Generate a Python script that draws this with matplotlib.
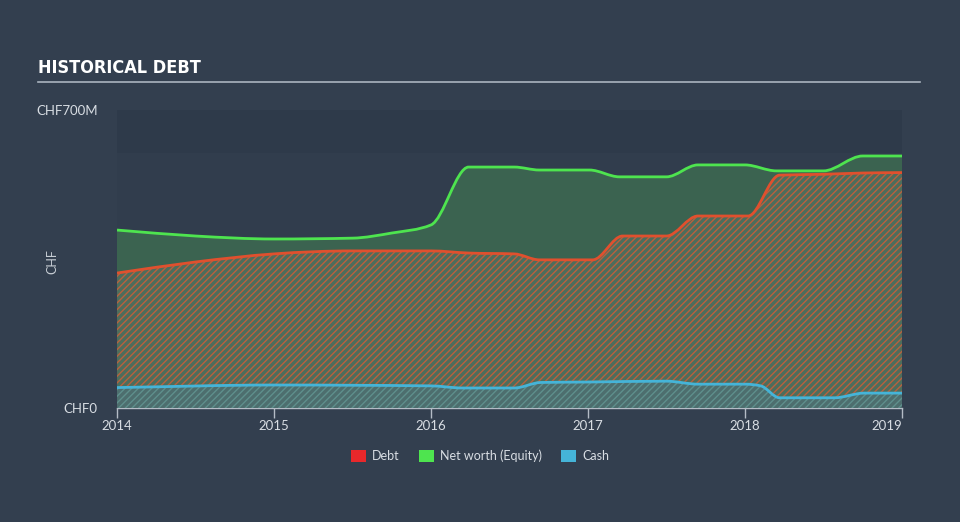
import numpy as np
import matplotlib.pyplot as plt
from matplotlib.path import Path
from matplotlib.patches import PathPatch, Patch

# values in CHF millions, dates as decimal years
equity_dates = [2014.0, 2014.5, 2015.0, 2015.5, 2015.75, 2016.0, 2016.24, 2016.53, 2016.69,
                2017.01, 2017.2, 2017.5, 2017.7, 2018.0, 2018.2, 2018.5, 2018.75, 2019.0]
equity = [418, 404, 397, 399, 411, 430, 566, 566, 559,
          559, 543, 543, 571, 571, 557, 557, 592, 592]

debt_dates = [2014.0, 2014.5, 2015.0, 2015.5, 2016.0, 2016.24, 2016.53, 2016.69, 2017.03,
              2017.22, 2017.5, 2017.7, 2018.02, 2018.22, 2018.5, 2018.75, 2019.0]
debt = [317, 343, 362, 369, 369, 364, 362, 348, 348,
        404, 404, 451, 451, 547, 549, 552, 553]

cash_dates = [2014.0, 2015.0, 2016.0, 2016.2, 2016.53, 2016.7, 2017.0, 2017.5, 2017.7,
              2018.0, 2018.1, 2018.22, 2018.57, 2018.76, 2019.0]
cash = [48, 54, 52, 47, 47, 60, 61, 63, 56,
        56, 52, 24, 24, 35, 35]

year_ticks = [2014, 2015, 2016, 2017, 2018, 2019]
y_max = 700

BG = '#333f4f'


def monotone_path(x, y):
    # smooth monotone-x curve (like d3 curveMonotoneX) as cubic bezier segments
    x = np.asarray(x, float)
    y = np.asarray(y, float)
    h = np.diff(x)
    s = np.diff(y) / h
    m = np.zeros(len(x))
    for i in range(1, len(x) - 1):
        if s[i - 1] * s[i] <= 0:
            m[i] = 0
        else:
            p = (s[i - 1] * h[i] + s[i] * h[i - 1]) / (h[i - 1] + h[i])
            m[i] = np.sign(s[i - 1]) * min(abs(s[i - 1]), abs(s[i]), 0.5 * abs(p)) * 2
    m[0] = s[0]
    m[-1] = s[-1]
    verts = [(x[0], y[0])]
    codes = [Path.MOVETO]
    for i in range(len(x) - 1):
        d = h[i] / 3
        verts += [(x[i] + d, y[i] + m[i] * d), (x[i + 1] - d, y[i + 1] - m[i + 1] * d), (x[i + 1], y[i + 1])]
        codes += [Path.CURVE4] * 3
    return verts, codes


def area_patch(x, y, **kw):
    verts, codes = monotone_path(x, y)
    verts = verts + [(x[-1], 0), (x[0], 0), (x[0], y[0])]
    codes = codes + [Path.LINETO, Path.LINETO, Path.CLOSEPOLY]
    return PathPatch(Path(verts, codes), **kw)


def line_patch(x, y, **kw):
    verts, codes = monotone_path(x, y)
    return PathPatch(Path(verts, codes), facecolor='none', **kw)


plt.rcParams['hatch.linewidth'] = 1.0
fig = plt.figure(figsize=(9.6, 5.22), dpi=100, facecolor=BG)
ax = fig.add_axes([117 / 960, 1 - 408 / 522, 785 / 960, 298 / 522])
ax.set_facecolor('#313d4d')
ax.axhspan(600, 700, color='#2e3a4a', zorder=0, lw=0)

ax.add_patch(area_patch(equity_dates, equity, facecolor='#3b6350', edgecolor='none', zorder=1))
ax.add_patch(area_patch(debt_dates, debt, facecolor='#4d6d5c', edgecolor='#b8613e',
                        hatch='/////', linewidth=0, zorder=2))
ax.add_patch(area_patch(cash_dates, cash, facecolor='#4d6e6e', edgecolor='#5f8f8c',
                        hatch='/////', linewidth=0, zorder=3))
ax.add_patch(line_patch(equity_dates, equity, edgecolor='#4ee44f', linewidth=2, zorder=4))
ax.add_patch(line_patch(debt_dates, debt, edgecolor='#e0502e', linewidth=2, zorder=4))
ax.add_patch(line_patch(cash_dates, cash, edgecolor='#45b4d8', linewidth=2, zorder=4))

ax.set_xlim(2014, 2019)
ax.set_ylim(0, y_max)
for sp in ['left', 'right', 'top']:
    ax.spines[sp].set_visible(False)
ax.spines['bottom'].set_color('#b4bcc6')
ax.spines['bottom'].set_linewidth(1)

ax.set_xticks(year_ticks)
ax.set_xticklabels([str(t) for t in year_ticks])
ax.tick_params(axis='x', colors='#b4bcc6', length=7, width=1, labelsize=9.5,
               labelcolor='#d8dde3', pad=2)
ax.get_xticklabels()[-1].set_ha('right')
for lbl in ax.get_xticklabels():
    lbl.set_fontfamily('Lato')

ax.set_yticks([0, y_max])
ax.set_yticklabels(['CHF0', 'CHF700M'])
ax.tick_params(axis='y', length=0, labelsize=9.5, labelcolor='#d8dde3', pad=14)
for lbl in ax.get_yticklabels():
    lbl.set_fontfamily('Lato')

fig.text(52 / 960, 1 - 262 / 522, 'CHF', rotation=90, color='#c8ced5', fontsize=9,
         fontfamily='Lato', ha='center', va='center')

fig.text(38 / 960, 1 - 68 / 522, 'HISTORICAL DEBT', color='white', fontsize=13,
         fontweight='bold', fontfamily='DejaVu Sans', fontstretch='condensed',
         ha='left', va='center')
fig.add_artist(plt.Line2D([38 / 960, 920 / 960], [1 - 81.5 / 522, 1 - 81.5 / 522],
                          color='#aab4bf', linewidth=1.2))

handles = [Patch(facecolor='#e8282b', label='Debt'),
           Patch(facecolor='#4ee44f', label='Net worth (Equity)'),
           Patch(facecolor='#45b4d8', label='Cash')]
leg = fig.legend(handles=handles, loc='center', bbox_to_anchor=(480 / 960, 1 - 456 / 522),
                 ncol=3, frameon=False, fontsize=9, handlelength=1.2, handleheight=1.2,
                 columnspacing=1.5, handletextpad=0.5)
for t in leg.get_texts():
    t.set_color('#d8dde3')
    t.set_fontfamily('Lato')

fig.savefig('out.png', dpi=100, facecolor=BG)
